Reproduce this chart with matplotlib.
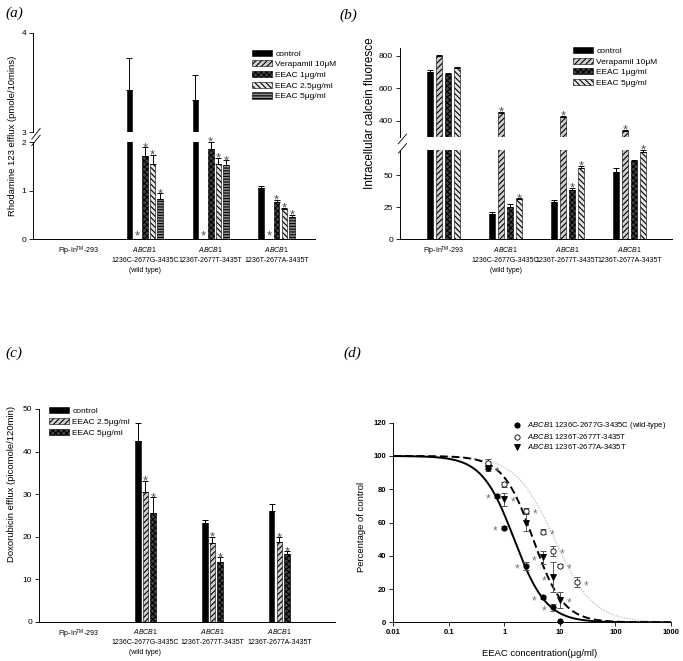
import numpy as np
import matplotlib
matplotlib.use("Agg")
import matplotlib.pyplot as plt
from matplotlib.patches import Patch
from matplotlib.lines import Line2D

plt.rcParams['font.family'] = ['Liberation Sans', 'DejaVu Sans']
plt.rcParams['mathtext.fontset'] = 'custom'
plt.rcParams['mathtext.rm'] = 'Liberation Sans'
plt.rcParams['mathtext.it'] = 'Liberation Sans:italic'
plt.rcParams['hatch.linewidth'] = 0.8

# ---- data -------------------------------------------------------------
groups = [r"Flp-In$^{\mathrm{TM}}$-293",
          "$\\it{ABCB1}$\n1236C-2677G-3435C\n(wild type)",
          "$\\it{ABCB1}$\n1236T-2677T-3435T",
          "$\\it{ABCB1}$\n1236T-2677A-3435T"]
nan = np.nan

# (a) rhodamine 123 efflux
a_names = ["control", "Verapamil 10\u03bcM", "EEAC 1\u03bcg/ml", "EEAC 2.5\u03bcg/ml", "EEAC 5\u03bcg/ml"]
a_control = [nan, 3.42, 3.32, 1.05]
a_control_err = [nan, 0.33, 0.26, 0.05]
a_verap = [nan, 0.0, 0.0, 0.0]
a_verap_err = [nan, nan, nan, nan]
a_eeac1 = [nan, 1.72, 1.86, 0.76]
a_eeac1_err = [nan, 0.17, 0.14, 0.04]
a_eeac25 = [nan, 1.54, 1.54, 0.62]
a_eeac25_err = [nan, 0.19, 0.14, 0.03]
a_eeac5 = [nan, 0.82, 1.53, 0.46]
a_eeac5_err = [nan, 0.12, 0.09, 0.03]
a_stars = [[0, 0, 0, 0], [0, 1, 1, 1], [0, 1, 1, 1], [0, 1, 1, 1], [0, 1, 1, 1]]

# (b) intracellular calcein
b_names = ["control", "Verapamil 10\u03bcM", "EEAC 1\u03bcg/ml", "EEAC 5\u03bcg/ml"]
b_control = [703, 20, 29, 52.5]
b_control_err = [7, 1.5, 2, 3.5]
b_verap = [800, 448, 422, 337]
b_verap_err = [8, 7, 7, 6]
b_eeac1 = [688, 25, 38.5, 61]
b_eeac1_err = [9, 2.5, 2, 1.5]
b_eeac5 = [725, 31.3, 56, 68.5]
b_eeac5_err = [8, 0.8, 1.5, 1.5]
b_stars = [[0, 0, 0, 0], [0, 1, 1, 1], [0, 0, 1, 0], [0, 1, 1, 1]]

# (c) doxorubicin efflux
c_names = ["control", "EEAC 2.5\u03bcg/ml", "EEAC 5\u03bcg/ml"]
c_control = [nan, 42.5, 23.2, 26.0]
c_control_err = [nan, 4.1, 0.8, 1.6]
c_eeac25 = [nan, 30.4, 18.5, 18.7]
c_eeac25_err = [nan, 2.6, 1.5, 1.1]
c_eeac5 = [nan, 25.6, 14.0, 15.8]
c_eeac5_err = [nan, 3.6, 1.1, 0.7]
c_stars = [[0, 0, 0, 0], [0, 1, 1, 1], [0, 1, 1, 1]]

# (d) dose response
d_names = ["$\\it{ABCB1}$ 1236C-2677G-3435C (wild-type)",
           "$\\it{ABCB1}$ 1236T-2677T-3435T",
           "$\\it{ABCB1}$ 1236T-2677A-3435T"]
wt_x = [0.5, 0.75, 1, 2.5, 5, 7.5, 10]
wt_y = [93, 76, 57, 34, 15, 9, 0.5]
wt_err = [1, 1, 1, 2.5, 1, 2, 0.5]
wt_star = [0, -1, -1, -1, -1, -1, 0]
ttt_x = [0.5, 1, 2.5, 5, 7.5, 10, 20]
ttt_y = [96, 83, 67, 54.5, 43, 34, 24]
ttt_err = [2, 1.5, 1.5, 1.5, 3, 1, 3]
ttt_star = [0, 0, 1, 1, 1, 1, 1]
tta_x = [0.5, 1, 2.5, 5, 7.5, 10]
tta_y = [92.5, 74, 60, 39, 27, 13.5]
tta_err = [1.5, 4, 5, 4, 9, 5]
tta_star = [1, 1, 0, -1, -1, 1]
# fitted IC50 (ug/ml) and Hill slope of each curve
ic50 = {"wt": 1.5, "ttt": 8.0, "tta": 3.3}
hill = {"wt": 1.5, "ttt": 1.25, "tta": 1.6}

# ---- styles -----------------------------------------------------------
BLACK = dict(fc="black", hatch=None)
DIAG = dict(fc="#cfcfcf", hatch="//////")
CROSS = dict(fc="#444444", hatch="xxxxxx")
BACK = dict(fc="#e6e6e6", hatch="\\\\\\\\\\\\")
HORIZ = dict(fc="#8a8a8a", hatch="------")
STAR_C = "#4d4d4d"

fig = plt.figure(figsize=(6.83, 6.61), dpi=100)


def draw_bars(axes, series, width, step):
    k = len(series)
    xpos = np.arange(4)
    for i, (vals, errs, stars, st) in enumerate(series):
        vals = np.array(vals, float)
        errs = np.array(errs, float)
        x = xpos + (i - (k - 1) / 2) * step
        ok = ~np.isnan(vals)
        for ax in axes:
            ax.bar(x[ok], vals[ok], width, color=st["fc"], hatch=st["hatch"],
                   edgecolor="black", linewidth=0.4)
            ax.errorbar(x, vals, yerr=[np.zeros(4), errs], fmt="none", ecolor="black",
                        elinewidth=0.7, capsize=2.2, capthick=0.7)
            for xi, v, e, s in zip(x, vals, errs, stars):
                if s:
                    top = v + (0 if np.isnan(e) else e)
                    dy = -2.6 if top > 0 else -0.3
                    ax.annotate("*", (xi, top), xytext=(0, dy), textcoords="offset points",
                                ha="center", va="baseline", fontsize=9.5, color=STAR_C)


def style_bar_axes(ax, lim, bottom=True):
    ax.set_xlim(*lim)
    for s in ["top", "right"]:
        ax.spines[s].set_visible(False)
    ax.spines["left"].set_linewidth(0.7)
    ax.spines["bottom"].set_linewidth(0.7)
    ax.tick_params(axis="y", labelsize=6, length=3, width=0.6, pad=2)
    if bottom:
        ax.set_xticks(range(4))
        ax.set_xticklabels(groups, fontsize=5)
        ax.tick_params(axis="x", length=0, pad=4)
        for t in ax.get_xticklabels():
            t.set_linespacing(1.6)
    else:
        ax.spines["bottom"].set_visible(False)
        ax.set_xticks([])


def break_marks(ax_up, ax_lo, dx, dy):
    kw = dict(color="black", lw=0.6, clip_on=False)
    ax_up.plot([-dx * 0.3, dx * 1.2], [-dy * 1.2, dy * 0.6], transform=ax_up.transAxes, **kw)
    ax_lo.plot([-dx * 0.3, dx * 1.2], [1 - dy * 0.6, 1 + dy * 1.2], transform=ax_lo.transAxes, **kw)


def make_legend(ax, names, styles, left, top, fs=6):
    h = [Patch(facecolor=s["fc"], hatch=s["hatch"], edgecolor="black", linewidth=0.4) for s in styles]
    ax.legend(h, names, loc="upper left", bbox_to_anchor=(left, top), bbox_transform=fig.transFigure,
              frameon=False, fontsize=fs, handlelength=2.4, handleheight=0.75,
              labelspacing=0.33, handletextpad=0.4, borderpad=0, borderaxespad=0)


# ---- (a) --------------------------------------------------------------
a_up = fig.add_axes([0.049, 0.8003, 0.412, 0.1498])
a_lo = fig.add_axes([0.049, 0.6384, 0.412, 0.1467])
a_styles = [BLACK, DIAG, CROSS, BACK, HORIZ]
draw_bars([a_up, a_lo],
          [(a_control, a_control_err, a_stars[0], BLACK),
           (a_verap, a_verap_err, a_stars[1], DIAG),
           (a_eeac1, a_eeac1_err, a_stars[2], CROSS),
           (a_eeac25, a_eeac25_err, a_stars[3], BACK),
           (a_eeac5, a_eeac5_err, a_stars[4], HORIZ)], 0.085, 0.117)
style_bar_axes(a_up, (-0.69, 3.58), bottom=False)
style_bar_axes(a_lo, (-0.69, 3.58))
a_up.set_ylim(3, 4)
a_up.set_yticks([3, 4])
a_lo.set_ylim(0, 2)
a_lo.set_yticks([0, 1, 2])
break_marks(a_up, a_lo, 0.02, 0.06)
make_legend(a_up, a_names, a_styles, 0.369, 0.925)
fig.text(0.0176, 0.794, "Rhodamine 123 efflux (pmole/10mins)", rotation=90,
         ha="center", va="center", fontsize=6.8)

# ---- (b) --------------------------------------------------------------
b_up = fig.add_axes([0.5857, 0.7923, 0.398, 0.1356])
b_lo = fig.add_axes([0.5857, 0.638, 0.398, 0.1351])
b_styles = [BLACK, DIAG, CROSS, BACK]
draw_bars([b_up, b_lo],
          [(b_control, b_control_err, b_stars[0], BLACK),
           (b_verap, b_verap_err, b_stars[1], DIAG),
           (b_eeac1, b_eeac1_err, b_stars[2], CROSS),
           (b_eeac5, b_eeac5_err, b_stars[3], BACK)], 0.097, 0.145)
style_bar_axes(b_up, (-0.70, 3.68), bottom=False)
style_bar_axes(b_lo, (-0.70, 3.68))
b_up.set_ylim(300, 850)
b_up.set_yticks([400, 600, 800])
b_lo.set_ylim(0, 70)
b_lo.set_yticks([0, 25, 50])
break_marks(b_up, b_lo, 0.02, 0.06)
make_legend(b_up, b_names, b_styles, 0.839, 0.929)
fig.text(0.542, 0.829, "Intracellular calcein fluoresce", rotation=90,
         ha="center", va="center", fontsize=8.5)

# ---- (c) --------------------------------------------------------------
c_ax = fig.add_axes([0.0575, 0.0595, 0.433, 0.3218])
c_styles = [BLACK, DIAG, CROSS]
draw_bars([c_ax],
          [(c_control, c_control_err, c_stars[0], BLACK),
           (c_eeac25, c_eeac25_err, c_stars[1], DIAG),
           (c_eeac5, c_eeac5_err, c_stars[2], CROSS)], 0.085, 0.116)
style_bar_axes(c_ax, (-0.585, 3.83))
c_ax.set_ylim(0, 50)
c_ax.set_yticks(range(0, 51, 10))
make_legend(c_ax, c_names, c_styles, 0.0717, 0.384)
fig.text(0.017, 0.2685, "Doxorubicin efflux (picomole/120min)", rotation=90,
         ha="center", va="center", fontsize=6.8)

# ---- (d) --------------------------------------------------------------
d_ax = fig.add_axes([0.5758, 0.0585, 0.4066, 0.302])
d_ax.set_xscale("log")
d_ax.set_xlim(0.01, 1000)
d_ax.set_ylim(0, 120)
xs = np.logspace(-2, 3, 400)
curve_style = {"wt": dict(color="black", lw=1.4, ls="-"),
               "tta": dict(color="black", lw=1.4, ls=(0, (4, 2))),
               "ttt": dict(color="#c8c8c8", lw=1.0, ls=(0, (1, 1)))}
for key in ["ttt", "tta", "wt"]:
    d_ax.plot(xs, 100 / (1 + (xs / ic50[key]) ** hill[key]), zorder=1, **curve_style[key])

pts = [(wt_x, wt_y, wt_err, wt_star, dict(marker="o", mfc="black", mec="black")),
       (ttt_x, ttt_y, ttt_err, ttt_star, dict(marker="o", mfc="white", mec="black")),
       (tta_x, tta_y, tta_err, tta_star, dict(marker="v", mfc="black", mec="black"))]
for x, y, e, st, mk in pts:
    d_ax.errorbar(x, y, yerr=e, fmt="none", ecolor="#555555", elinewidth=0.7,
                  capsize=2.2, capthick=0.7, zorder=2)
    d_ax.plot(x, y, ls="none", ms=3.8, mew=0.6, zorder=3, clip_on=False, **mk)
    for xi, yi, s in zip(x, y, st):
        if s:
            d_ax.annotate("*", (xi, yi), xytext=(6.5 * s, -4.8), textcoords="offset points",
                          ha="center", va="baseline", fontsize=8.5, color="#777777")

for s in ["top", "right"]:
    d_ax.spines[s].set_visible(False)
d_ax.spines["left"].set_linewidth(0.7)
d_ax.spines["bottom"].set_linewidth(0.7)
d_ax.set_xticks([0.01, 0.1, 1, 10, 100, 1000])
d_ax.set_xticklabels(["0.01", "0.1", "1", "10", "100", "1000"])
d_ax.xaxis.set_minor_locator(matplotlib.ticker.NullLocator())
d_ax.set_yticks(range(0, 121, 20))
d_ax.tick_params(labelsize=5.5, length=3, width=0.6, pad=2)
for t in d_ax.get_xticklabels() + d_ax.get_yticklabels():
    t.set_fontweight("bold")
hd = [Line2D([], [], ls="none", ms=3.8, mew=0.6, **p[4]) for p in pts]
d_ax.legend(hd, d_names, loc="upper left", bbox_to_anchor=(0.752, 0.364),
            bbox_transform=fig.transFigure, frameon=False, fontsize=5.5,
            handlelength=1.0, labelspacing=0.12, handletextpad=0.8, borderpad=0,
            borderaxespad=0)
fig.text(0.5296, 0.203, "Percentage of control", rotation=90, ha="center",
         va="center", fontsize=6.8)
fig.text(0.790, 0.012, "EEAC concentration(\u03bcg/ml)", ha="center", va="center",
         fontsize=6.8)

# ---- panel letters ----------------------------------------------------
for lab, x, y in [("(a)", 0.008, 0.980), ("(b)", 0.497, 0.977),
                  ("(c)", 0.008, 0.466), ("(d)", 0.503, 0.465)]:
    fig.text(x, y, lab, family="Liberation Serif", style="italic", fontsize=11,
             ha="left", va="center")

fig.savefig("out.png", dpi=100)
